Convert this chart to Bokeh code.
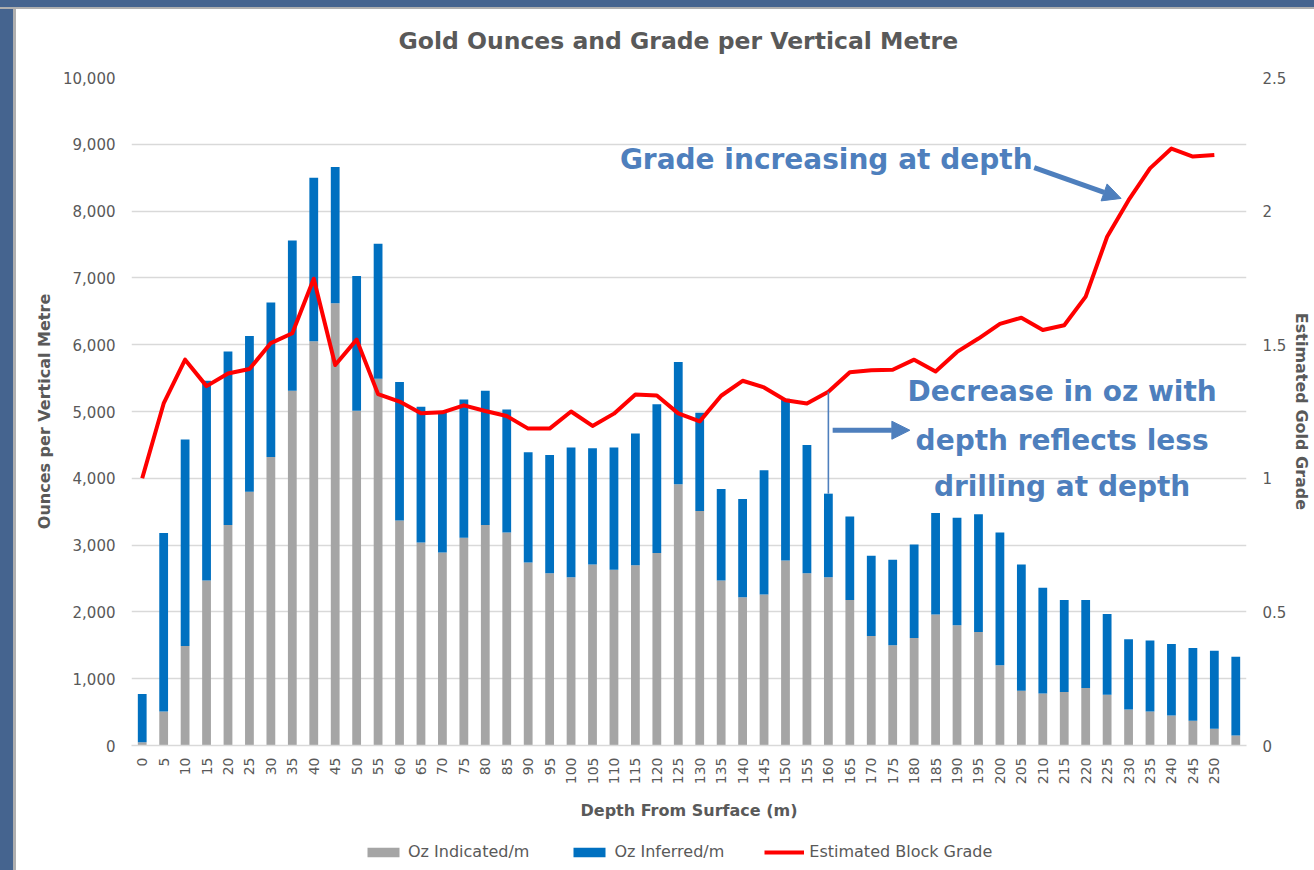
import math
from bokeh.plotting import figure
from bokeh.layouts import column
from bokeh.models import (ColumnDataSource, Range1d, LinearAxis, FixedTicker,
                          NumeralTickFormatter, Legend, LegendItem, Label, Arrow,
                          NormalHead, FactorRange)
from bokeh.embed import file_html
from bokeh.resources import INLINE

# ---------------- data ----------------
depth_labels = ["0", "5", "10", "15", "20", "25", "30", "35", "40", "45",
                "50", "55", "60", "65", "70", "75", "80", "85", "90", "95",
                "100", "105", "110", "115", "120", "125", "130", "135", "140", "145",
                "150", "155", "160", "165", "170", "175", "180", "185", "190", "195",
                "200", "205", "210", "215", "220", "225", "230", "235", "240", "245",
                "250", ""]

oz_indicated = [50, 510, 1490, 2470, 3300, 3800, 4320, 5310, 6050, 6620,
                5010, 5490, 3370, 3040, 2890, 3110, 3300, 3190, 2740, 2580,
                2520, 2710, 2630, 2700, 2880, 3910, 3510, 2470, 2220, 2260,
                2770, 2580, 2520, 2180, 1640, 1500, 1610, 1960, 1800, 1700,
                1200, 820, 780, 800, 860, 760, 540, 510, 450, 370,
                250, 150]

oz_inferred = [720, 2670, 3090, 2990, 2600, 2330, 2310, 2250, 2450, 2040,
               2020, 2020, 2070, 2030, 2090, 2070, 2010, 1840, 1650, 1770,
               1940, 1740, 1830, 1970, 2230, 1830, 1470, 1370, 1470, 1860,
               2420, 1920, 1250, 1250, 1200, 1280, 1400, 1520, 1610, 1760,
               1990, 1890, 1580, 1380, 1320, 1210, 1050, 1060, 1070, 1090,
               1170, 1180]

block_grade = [1.00, 1.28, 1.444, 1.345, 1.392, 1.409, 1.506, 1.543, 1.747, 1.424,
               1.519, 1.315, 1.287, 1.243, 1.247, 1.273, 1.252, 1.233, 1.186, 1.186,
               1.25, 1.196, 1.242, 1.314, 1.31, 1.243, 1.213, 1.309, 1.365, 1.340,
               1.292, 1.280, 1.324, 1.397, 1.404, 1.406, 1.444, 1.40, 1.473, 1.523,
               1.578, 1.601, 1.555, 1.573, 1.68, 1.904, 2.041, 2.160, 2.234, 2.204,
               2.210]

left_ticks = [0, 1000, 2000, 3000, 4000, 5000, 6000, 7000, 8000, 9000, 10000]
right_ticks = [0, 0.5, 1, 1.5, 2, 2.5]
right_tick_labels = ["0", "0.5", "1", "1.5", "2", "2.5"]
series_names = ["Oz Indicated/m", "Oz Inferred/m", "Estimated Block Grade"]

# ---------------- styling ----------------
GRAY = "#A5A5A5"
BLUE = "#0070C0"
RED = "#FF0000"
TXT = "#595959"
ANN = "#4E7FBD"
FONT = "DejaVu Sans"
FRAME_BLUE = "#45648F"
FRAME_GRAY = "#AFAFAF"
LEFT_STRIP = (f"linear-gradient(to right, {FRAME_BLUE} 0px, {FRAME_BLUE} 13px, "
              f"{FRAME_GRAY} 13px, {FRAME_GRAY} 16px, #FFFFFF 16px)")
TOP_STRIP = (f"linear-gradient(to bottom, {FRAME_BLUE} 0px, {FRAME_BLUE} 7px, "
             f"{FRAME_GRAY} 7px, {FRAME_GRAY} 9px, rgba(0,0,0,0) 9px)")

bars = ColumnDataSource(dict(depth=depth_labels, ind=oz_indicated, inf=oz_inferred))
line_src = ColumnDataSource(dict(depth=depth_labels[:len(block_grade)], grade=block_grade))

p = figure(width=1314, height=840, x_range=FactorRange(factors=depth_labels),
           y_range=Range1d(0, 10000), output_backend="svg", toolbar_location=None,
           min_border_left=131, min_border_right=63, min_border_top=77,
           min_border_bottom=95)
p.extra_y_ranges = {"grade": Range1d(0, 2.5)}
p.outline_line_color = None
p.border_fill_color = None
p.background_fill_color = "#FFFFFF"
p.styles = {"background": TOP_STRIP + ", " + LEFT_STRIP}

# title
p.title.text = "Gold Ounces and Grade per Vertical Metre"
p.title.align = "left"
p.title.offset = 267
p.title.text_font = FONT
p.title.text_font_size = "23.5px"
p.title.text_font_style = "bold"
p.title.text_color = TXT
p.title.standoff = 46

# bars
r_ind, r_inf = p.vbar_stack(["ind", "inf"], x="depth", width=0.41, source=bars,
                            color=[GRAY, BLUE], line_width=0)

# red grade line
r_line = p.line(x="depth", y="grade", source=line_src, y_range_name="grade",
                line_color=RED, line_width=4, line_join="round")

# grid
p.xgrid.grid_line_color = None
p.ygrid.grid_line_color = "#D9D9D9"
p.ygrid.grid_line_width = 1.3
p.ygrid.ticker = FixedTicker(ticks=left_ticks)

# x axis
xa = p.xaxis[0]
xa.axis_label = "Depth From Surface (m)"
xa.axis_label_text_font = FONT
xa.axis_label_text_font_size = "16px"
xa.axis_label_text_font_style = "bold"
xa.axis_label_text_color = TXT
xa.axis_label_standoff = 14
xa.major_label_orientation = math.pi / 2
xa.major_label_text_font = FONT
xa.major_label_text_font_size = "14px"
xa.major_label_text_color = TXT
xa.major_label_standoff = 12
xa.major_tick_out = 0
xa.major_tick_in = 0
xa.major_tick_line_color = None
xa.minor_tick_line_color = None
xa.axis_line_color = "#D9D9D9"
xa.axis_line_width = 1.3

# left axis
ya = p.yaxis[0]
ya.ticker = FixedTicker(ticks=left_ticks)
ya.formatter = NumeralTickFormatter(format="0,0")
ya.axis_label = "Ounces per Vertical Metre"
ya.axis_label_text_font = FONT
ya.axis_label_text_font_size = "16px"
ya.axis_label_text_font_style = "bold"
ya.axis_label_text_color = TXT
ya.axis_label_standoff = 6
ya.major_label_text_font = FONT
ya.major_label_text_font_size = "15px"
ya.major_label_text_color = TXT
ya.major_label_standoff = 16
ya.major_tick_out = 0
ya.major_tick_in = 0
ya.major_tick_line_color = None
ya.minor_tick_line_color = None
ya.axis_line_color = None

# right axis
ra = LinearAxis(y_range_name="grade", ticker=FixedTicker(ticks=right_ticks))
ra.major_label_overrides = {t: s for t, s in zip(right_ticks, right_tick_labels)}
ra.axis_label = "Estimated Gold Grade"
ra.axis_label_text_font = FONT
ra.axis_label_text_font_size = "16px"
ra.axis_label_text_font_style = "bold"
ra.axis_label_text_color = TXT
ra.axis_label_standoff = 3
ra.major_label_text_font = FONT
ra.major_label_text_font_size = "15px"
ra.major_label_text_color = TXT
ra.major_label_standoff = 16
ra.major_tick_out = 0
ra.major_tick_in = 0
ra.major_tick_line_color = None
ra.minor_tick_line_color = None
ra.axis_line_color = None
p.add_layout(ra, "right")

# annotations
i160 = depth_labels.index("160")
p.segment(x0=[depth_labels[i160]], x1=[depth_labels[i160]],
          y0=[oz_indicated[i160] + oz_inferred[i160]],
          y1=[block_grade[i160] * 10000 / 2.5],
          line_color=ANN, line_width=1.6)

p.add_layout(Label(x=32.4, y=8770, text="Grade increasing at depth", text_align="center",
                   text_baseline="alphabetic", text_font=FONT, text_font_style="bold",
                   text_font_size="28px", text_color=ANN))
for txt, yy in [("Decrease in oz with", 5300), ("depth reflects less", 4560),
                ("drilling at depth", 3880)]:
    p.add_layout(Label(x=43.4, y=yy, text=txt, text_align="center",
                       text_baseline="alphabetic", text_font=FONT, text_font_style="bold",
                       text_font_size="28px", text_color=ANN))

p.add_layout(Arrow(end=NormalHead(size=18, fill_color=ANN, line_color=ANN),
                   x_start=42.1, y_start=8650, x_end=46.15, y_end=8190,
                   line_color=ANN, line_width=5))
p.add_layout(Arrow(end=NormalHead(size=18, fill_color=ANN, line_color=ANN),
                   x_start=32.7, y_start=4720, x_end=36.3, y_end=4720,
                   line_color=ANN, line_width=5))

# ---------------- legend strip ----------------
# same series again, hidden, so that only their legend swatches show
pl = figure(width=1314, height=30, x_range=p.x_range, y_range=Range1d(-100000, -99999),
            output_backend="svg", toolbar_location=None, min_border=0,
            x_axis_location=None, y_axis_location=None)
pl.grid.visible = False
pl.outline_line_color = None
pl.border_fill_color = None
pl.background_fill_color = None
pl.styles = {"background": LEFT_STRIP}
lg_ind, lg_inf = pl.vbar_stack(["ind", "inf"], x="depth", width=0.41, source=bars,
                               color=[GRAY, BLUE], line_width=0)
lg_line = pl.line(x="depth", y="grade", source=line_src, line_color=RED, line_width=4)
for r in (lg_ind, lg_inf, lg_line):
    r.visible = False
legend = Legend(items=[LegendItem(label=series_names[0], renderers=[lg_ind]),
                       LegendItem(label=series_names[1], renderers=[lg_inf]),
                       LegendItem(label=series_names[2], renderers=[lg_line])],
                orientation="horizontal", location=(232, 9),
                glyph_width=40, glyph_height=12, label_standoff=5, spacing=40,
                padding=0, margin=0, border_line_alpha=0, background_fill_alpha=0,
                inactive_fill_alpha=0,
                label_text_font=FONT, label_text_font_size="16px", label_text_color=TXT)
pl.add_layout(legend)

layout = column(p, pl, spacing=0)
open("out.html", "w").write(file_html(layout, INLINE))
